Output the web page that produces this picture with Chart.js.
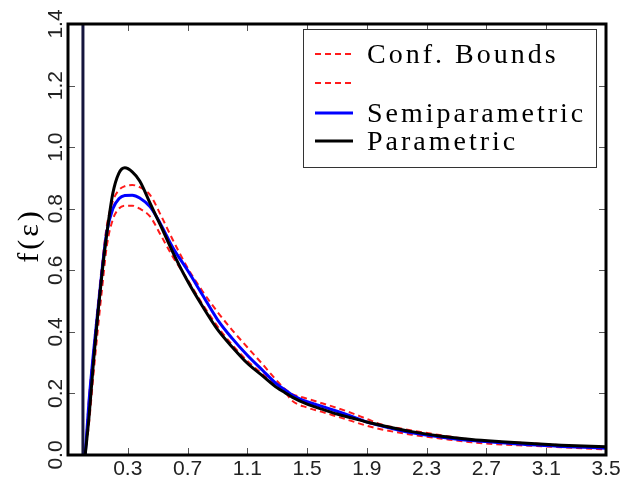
<!DOCTYPE html>
<html>
<head>
<meta charset="utf-8">
<script src="https://cdn.jsdelivr.net/npm/chart.js@4.4.0/dist/chart.umd.min.js"></script>
<style>
  html, body { margin:0; padding:0; background:#fff; }
  #wrap { width:623px; height:481px; }
</style>
</head>
<body>
<div id="wrap"><canvas id="chart" width="623" height="481"></canvas></div>
<script>
// data (epsilon grid + density values)
const epsGrid        = [0.015, 0.04, 0.07, 0.1, 0.13, 0.16, 0.2, 0.24, 0.28, 0.33, 0.38, 0.45, 0.52, 0.6, 0.7, 0.8, 0.9, 1.0, 1.1, 1.2, 1.3, 1.35, 1.4, 1.5, 1.6, 1.7, 1.8, 1.9, 2.0, 2.2, 2.4, 2.6, 2.8, 3.0, 3.2, 3.5];
const parametric     = [0, 0.12, 0.30, 0.46, 0.60, 0.72, 0.85, 0.915, 0.933, 0.92, 0.89, 0.817, 0.745, 0.66, 0.565, 0.483, 0.408, 0.35, 0.298, 0.258, 0.218, 0.203, 0.188, 0.165, 0.149, 0.133, 0.12, 0.107, 0.096, 0.076, 0.061, 0.05, 0.043, 0.037, 0.032, 0.027];
const semiparametric = [0, 0.17, 0.33, 0.47, 0.61, 0.725, 0.80, 0.832, 0.843, 0.844, 0.835, 0.806, 0.75, 0.675, 0.60, 0.52, 0.44, 0.378, 0.324, 0.276, 0.229, 0.212, 0.195, 0.173, 0.158, 0.142, 0.125, 0.107, 0.094, 0.072, 0.058, 0.047, 0.04, 0.033, 0.028, 0.022];
const boundUpper     = [0, 0.18, 0.34, 0.49, 0.63, 0.745, 0.825, 0.86, 0.873, 0.877, 0.87, 0.844, 0.78, 0.70, 0.608, 0.532, 0.465, 0.405, 0.35, 0.296, 0.24, 0.215, 0.198, 0.183, 0.168, 0.153, 0.136, 0.117, 0.099, 0.08, 0.064, 0.05, 0.043, 0.038, 0.032, 0.024];
const boundLower     = [0, 0.10, 0.26, 0.41, 0.55, 0.68, 0.765, 0.80, 0.81, 0.81, 0.80, 0.774, 0.715, 0.645, 0.57, 0.49, 0.418, 0.357, 0.306, 0.263, 0.225, 0.205, 0.176, 0.154, 0.14, 0.125, 0.11, 0.095, 0.083, 0.066, 0.053, 0.041, 0.034, 0.03, 0.025, 0.018];
const spikeX = [0, 0];
const spikeY = [0, 1.4];
const xTicks = [0.3, 0.7, 1.1, 1.5, 1.9, 2.3, 2.7, 3.1, 3.5];
const yTicks = [0, 0.2, 0.4, 0.6, 0.8, 1.0, 1.2, 1.4];
const legendLabels = ['Conf. Bounds', '', 'Semiparametric', 'Parametric'];

const pts = ys => epsGrid.map((x, i) => ({ x: x, y: ys[i] }));

// frame, inward ticks, rotated y labels, custom legend box
const framePlugin = {
  id: 'frame',
  afterDatasetsDraw(chart){
    const { ctx, chartArea: a, scales: { x, y } } = chart;
    ctx.save();
    ctx.strokeStyle = '#555';
    ctx.lineWidth = 1;
    ctx.beginPath();
    xTicks.forEach(v => {
      const px = Math.round(x.getPixelForValue(v)) + 0.5;
      ctx.moveTo(px, a.bottom); ctx.lineTo(px, a.bottom - 7);
      ctx.moveTo(px, a.top); ctx.lineTo(px, a.top + 7);
    });
    yTicks.forEach(v => {
      const py = Math.round(y.getPixelForValue(v)) + 0.5;
      ctx.moveTo(a.left, py); ctx.lineTo(a.left + 7, py);
      ctx.moveTo(a.right, py); ctx.lineTo(a.right - 7, py);
    });
    ctx.stroke();
    ctx.strokeStyle = '#000';
    ctx.lineWidth = 3;
    ctx.strokeRect(a.left, a.top, a.right - a.left, a.bottom - a.top);

    // y tick labels, rotated like the original
    ctx.fillStyle = '#222';
    ctx.font = '21px "Liberation Sans"';
    ctx.textAlign = 'center';
    ctx.textBaseline = 'alphabetic';
    yTicks.forEach(v => {
      ctx.save();
      ctx.translate(a.left - 6, y.getPixelForValue(v));
      ctx.rotate(-Math.PI / 2);
      ctx.fillText(v.toFixed(1), 0, 0);
      ctx.restore();
    });

    // y title
    ctx.save();
    ctx.translate(38, (a.top + a.bottom) / 2 - 4);
    ctx.rotate(-Math.PI / 2);
    ctx.font = '30px "Liberation Serif"';
    ctx.letterSpacing = '3px';
    ctx.fillStyle = '#000';
    ctx.fillText('f(\u03b5)', 0, 0);
    ctx.restore();
    ctx.restore();
  },
  afterDraw(chart){
    const { ctx, chartArea: a } = chart;
    const bx = a.right - 303, by = a.top + 5, bw = 293, bh = 138;
    ctx.save();
    ctx.fillStyle = '#fff';
    ctx.fillRect(bx, by, bw, bh);
    ctx.strokeStyle = '#333';
    ctx.lineWidth = 1;
    ctx.strokeRect(bx + 0.5, by + 0.5, bw, bh);
    const rows = [25, 54, 84, 112];
    const sets = chart.data.datasets.filter(d => d.inLegend);
    sets.forEach((d, i) => {
      const ry = by + rows[i];
      ctx.strokeStyle = d.borderColor;
      ctx.lineWidth = d.borderWidth;
      ctx.setLineDash(d.borderDash || []);
      ctx.beginPath();
      ctx.moveTo(bx + 12, ry); ctx.lineTo(bx + 50, ry);
      ctx.stroke();
      ctx.setLineDash([]);
      if(legendLabels[i]){
        ctx.fillStyle = '#000';
        ctx.font = '28px "Liberation Serif"';
        ctx.letterSpacing = '3px';
        ctx.textBaseline = 'alphabetic';
        ctx.fillText(legendLabels[i], bx + 64, ry + 9);
      }
    });
    ctx.restore();
  }
};

const redLine = { borderColor: '#ff1a1a', borderWidth: 2, borderDash: [6, 4] };

new Chart(document.getElementById('chart'), {
  type: 'line',
  data: {
    datasets: [
      Object.assign({ label: legendLabels[0], data: pts(boundUpper), order: 3, inLegend: true }, redLine),
      Object.assign({ label: 'lower', data: pts(boundLower), order: 3, inLegend: true }, redLine),
      { label: legendLabels[2], data: pts(semiparametric), borderColor: '#0000ff', borderWidth: 3, order: 2, inLegend: true },
      { label: legendLabels[3], data: pts(parametric), borderColor: '#000000', borderWidth: 3, order: 1, inLegend: true },
      { label: 'spike', data: spikeX.map((x, i) => ({ x: x, y: spikeY[i] })), borderColor: '#16163e', borderWidth: 3, order: 4 }
    ]
  },
  options: {
    responsive: false,
    animation: false,
    devicePixelRatio: 1,
    layout: { padding: { left: 0, right: 17, top: 24, bottom: 0 } },
    elements: {
      point: { radius: 0 },
      line: { cubicInterpolationMode: 'monotone', fill: false }
    },
    plugins: { legend: { display: false }, tooltip: { enabled: false } },
    scales: {
      x: {
        type: 'linear', min: -0.1, max: 3.5,
        grid: { display: false, drawTicks: false },
        border: { display: false },
        afterBuildTicks: s => { s.ticks = xTicks.map(v => ({ value: v })); },
        afterFit: s => { s.height = 26; },
        ticks: {
          autoSkip: false, maxRotation: 0, padding: 2, color: '#222',
          font: { family: '"Liberation Sans"', size: 21 },
          callback: v => Number(v).toFixed(1)
        }
      },
      y: {
        type: 'linear', min: 0, max: 1.4,
        grid: { display: false, drawTicks: false },
        border: { display: false },
        ticks: { display: false },
        afterFit: s => { s.width = 68; }
      }
    }
  },
  plugins: [framePlugin]
});
</script>
</body>
</html>
